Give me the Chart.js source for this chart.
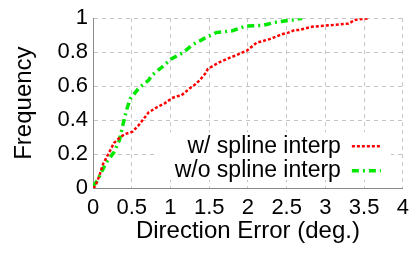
<!DOCTYPE html>
<html>
<head>
<meta charset="utf-8">
<script src="https://cdn.jsdelivr.net/npm/chart.js@4/dist/chart.umd.min.js"></script>
<style>
  html, body { margin: 0; padding: 0; background: #fff; }
  #c { display: block; }
</style>
</head>
<body>
<canvas id="c" width="416" height="253"></canvas>
<script>
// ==================== DATA ====================
const seriesNames = ['w/ spline interp', 'w/o spline interp'];

const splineX = [0, 0.03, 0.085, 0.13, 0.21, 0.27, 0.34, 0.41, 0.51, 0.59, 0.67, 0.72, 0.82, 0.93,
  1.02, 1.08, 1.14, 1.18, 1.25, 1.31, 1.38, 1.46, 1.48, 1.59, 1.63, 1.73, 1.78, 1.84, 1.99,
  2.11, 2.28, 2.45, 2.52, 2.60, 2.66, 2.83, 3.04, 3.19, 3.30, 3.38, 3.57];
const splineY = [0, 0.01, 0.076, 0.142, 0.21, 0.265, 0.294, 0.317, 0.332, 0.37, 0.417, 0.446, 0.474, 0.50,
  0.53, 0.54, 0.545, 0.56, 0.587, 0.607, 0.636, 0.68, 0.70, 0.73, 0.74, 0.76, 0.77, 0.78, 0.81,
  0.855, 0.877, 0.907, 0.915, 0.93, 0.93, 0.95, 0.958, 0.964, 0.968, 0.99, 1.0];

const noSplineX = [0, 0.06, 0.17, 0.27, 0.34, 0.38, 0.43, 0.48, 0.59, 0.72, 0.76, 0.89,
  1.01, 1.16, 1.29, 1.42, 1.59, 1.80, 1.97, 2.19, 2.37, 2.58, 2.70];
const noSplineY = [0.01, 0.047, 0.15, 0.21, 0.28, 0.36, 0.455, 0.525, 0.588, 0.636, 0.664, 0.712,
  0.76, 0.797, 0.845, 0.877, 0.915, 0.926, 0.953, 0.958, 0.977, 0.99, 1.0];

const xTickValues = [0, 0.5, 1, 1.5, 2, 2.5, 3, 3.5, 4];
const xTickLabels = ['0', '0.5', '1', '1.5', '2', '2.5', '3', '3.5', '4'];
const yTickValues = [0, 0.2, 0.4, 0.6, 0.8, 1];
const yTickLabels = ['0', '0.2', '0.4', '0.6', '0.8', '1'];

const xTitle = 'Direction Error (deg.)';
const yTitle = 'Frequency';

// ==================== HELPERS ====================
const FONT = '"Liberation Sans", Arial, sans-serif';

function toPoints(xs, ys) {
  return xs.map((x, i) => ({ x: x, y: ys[i] }));
}

// legend drawn inside the plot, text right-aligned, sample to the right
const insideLegend = {
  id: 'insideLegend',
  afterDatasetsDraw(chart) {
    const ctx = chart.ctx;
    const area = chart.chartArea;
    ctx.save();
    // white box hiding the grid under the legend
    ctx.fillStyle = '#fff';
    ctx.fillRect(area.right - 247, area.top + 114, 235, area.bottom - 8 - (area.top + 114));
    ctx.font = '23px ' + FONT;
    ctx.textAlign = 'right';
    ctx.textBaseline = 'middle';
    chart.data.datasets.forEach((ds, i) => {
      const y = area.top + 128 + i * 24.5;
      ctx.fillStyle = '#000';
      ctx.fillText(ds.label, area.right - 62, y);
      ctx.strokeStyle = ds.borderColor;
      ctx.lineWidth = ds.borderWidth;
      ctx.setLineDash(ds.borderDash);
      ctx.beginPath();
      ctx.moveTo(area.right - 51, y);
      ctx.lineTo(area.right - 22, y);
      ctx.stroke();
    });
    ctx.restore();
  }
};

// ==================== CHART ====================
const chart = new Chart(document.getElementById('c').getContext('2d'), {
  type: 'scatter',
  data: {
    datasets: [{
      label: seriesNames[0],
      data: toPoints(splineX, splineY),
      showLine: true,
      borderColor: '#ff0000',
      borderWidth: 2.5,
      borderDash: [3, 2],
      pointRadius: 0,
      tension: 0
    }, {
      label: seriesNames[1],
      data: toPoints(noSplineX, noSplineY),
      showLine: true,
      borderColor: '#00e800',
      borderWidth: 3.5,
      borderDash: [7, 4, 2, 4],
      pointRadius: 0,
      tension: 0
    }]
  },
  options: {
    responsive: false,
    animation: false,
    layout: { padding: { left: 10, right: 7, top: 13, bottom: 0 } },
    plugins: {
      legend: { display: false },
      tooltip: { enabled: false }
    },
    scales: {
      x: {
        type: 'linear',
        min: 0,
        max: 4,
        afterBuildTicks: (scale) => { scale.ticks = xTickValues.map(v => ({ value: v })); },
        afterFit: (scale) => { scale.height = 65; },
        ticks: {
          callback: (v) => xTickLabels[xTickValues.indexOf(v)],
          color: '#000',
          font: { family: FONT, size: 22 },
          padding: 7,
          maxRotation: 0,
          autoSkip: false
        },
        grid: { color: '#c4c4c4', lineWidth: 1, drawTicks: false },
        border: { color: '#8a8a8a', width: 1, dash: [4, 4] },
        title: {
          display: true,
          text: xTitle,
          color: '#000',
          font: { family: FONT, size: 24 },
          padding: { top: 0, bottom: 7 }
        }
      },
      y: {
        type: 'linear',
        min: 0,
        max: 1,
        afterBuildTicks: (scale) => { scale.ticks = yTickValues.map(v => ({ value: v })); },
        afterFit: (scale) => { scale.width = 83; },
        ticks: {
          callback: (v) => yTickLabels[yTickValues.indexOf(v)],
          color: '#000',
          font: { family: FONT, size: 22 },
          padding: 5,
          autoSkip: false
        },
        grid: { color: '#c4c4c4', lineWidth: 1, drawTicks: false },
        border: { color: '#8a8a8a', width: 1, dash: [4, 4] },
        title: {
          display: true,
          text: yTitle,
          color: '#000',
          font: { family: FONT, size: 24 },
          padding: { top: 0, bottom: 0 }
        }
      }
    }
  },
  plugins: [insideLegend]
});
</script>
</body>
</html>
